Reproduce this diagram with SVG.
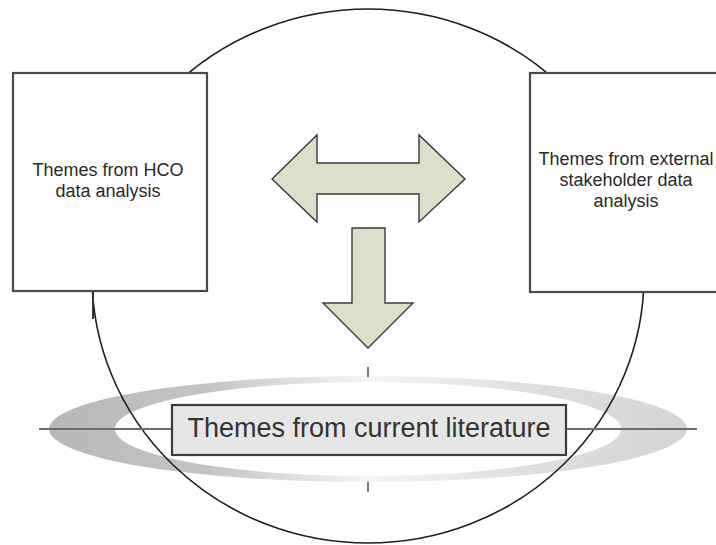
<svg xmlns="http://www.w3.org/2000/svg" width="716" height="545" viewBox="0 0 716 545">
  <style>
    .outline { fill: none; stroke: #1e1e1e; stroke-width: 1.6; }
    .box { fill: #ffffff; stroke: #4a4a4a; stroke-width: 2.2; }
    .label { font-family: "Liberation Sans", Arial, sans-serif; font-size: 18px; fill: #2a2a2a; text-anchor: middle; }
    .big { font-family: "Liberation Sans", Arial, sans-serif; font-size: 27px; fill: #333333; text-anchor: middle; }
    .arrow { fill: #dbe0ca; stroke: #3a3a3a; stroke-width: 1.4; stroke-linejoin: miter; }
    .axis { stroke: #6e6e6e; stroke-width: 2.2; fill: none; }
    .tick { stroke: #7a7a7a; stroke-width: 2; }
  </style>
  <defs>
    <linearGradient id="ringShade" x1="49" y1="0" x2="687" y2="0" gradientUnits="userSpaceOnUse">
      <stop offset="0" stop-color="#b8b8b8"/>
      <stop offset="0.25" stop-color="#c4c4c4"/>
      <stop offset="0.5" stop-color="#f6f6f6"/>
      <stop offset="0.75" stop-color="#dedede"/>
      <stop offset="1" stop-color="#d6d6d6"/>
    </linearGradient>
  </defs>

  <rect width="716" height="545" fill="#ffffff"/>

  <!-- shaded ring around the literature band -->
  <g id="ring">
    <path fill="url(#ringShade)" fill-rule="evenodd"
          d="M49,429 A319,53 0 1,0 687,429 A319,53 0 1,0 49,429 Z
             M115,429 A253,47 0 1,0 621,429 A253,47 0 1,0 115,429 Z"/>
  </g>

  <!-- large enclosing circle -->
  <g id="enclosure">
    <ellipse class="outline" cx="368" cy="276" rx="276" ry="267"/>
  </g>

  <g id="connectors">
    <!-- horizontal axis through the literature box -->
    <line class="axis" x1="39" y1="429" x2="697" y2="429"/>
    <!-- vertical axis ticks -->
    <line class="tick" x1="368" y1="367" x2="368" y2="377"/>
    <line class="tick" x1="368" y1="482" x2="368" y2="492"/>
    <!-- double-headed arrow between the two theme sources -->
    <path class="arrow" d="M272,179 L317,135 L317,163 L419,163 L419,135 L465,179 L419,222 L419,194 L317,194 L317,222 Z"/>
    <!-- downward arrow toward the literature -->
    <path class="arrow" d="M352,228 L385,228 L385,303 L413,303 L368,348 L323,303 L352,303 Z"/>
  </g>

  <g id="hco-themes">
    <rect class="box" x="13" y="73" width="194" height="218"/>
    <line x1="93" y1="292" x2="93" y2="319" stroke="#333333" stroke-width="2"/>
    <text class="label" x="108" y="176">Themes from HCO</text>
    <text class="label" x="108" y="197">data analysis</text>
  </g>

  <g id="stakeholder-themes">
    <rect class="box" x="530" y="73" width="200" height="219"/>
    <text class="label" x="626" y="165">Themes from external</text>
    <text class="label" x="626" y="186">stakeholder data</text>
    <text class="label" x="626" y="207">analysis</text>
  </g>

  <g id="literature-themes">
    <rect x="172" y="405" width="394" height="50" fill="#e6e6e6" stroke="#3c3c3c" stroke-width="2.2"/>
    <text class="big" x="369" y="437">Themes from current literature</text>
  </g>
</svg>
